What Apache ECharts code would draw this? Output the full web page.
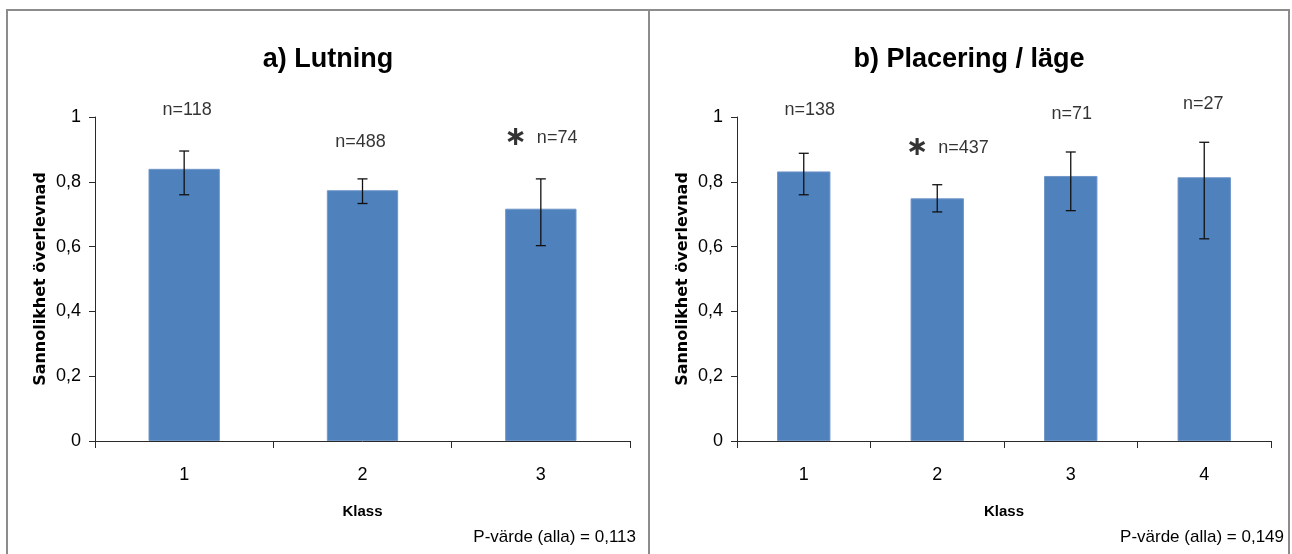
<!DOCTYPE html>
<html>
<head>
<meta charset="utf-8">
<script src="https://cdn.jsdelivr.net/npm/echarts@6/dist/echarts.min.js"></script>
<style>
html,body{margin:0;padding:0;background:#fff;}
#chart{width:1292px;height:554px;}
</style>
</head>
<body>
<div id="chart"></div>
<script>
// ---- data ----
const categoriesA = ['1', '2', '3'];
const meanA = [0.840, 0.774, 0.717];
const lowA = [0.760, 0.733, 0.603];
const highA = [0.895, 0.809, 0.809];
const nLabelsA = ['n=118', 'n=488', 'n=74'];
const starA = [false, false, true];

const categoriesB = ['1', '2', '3', '4'];
const meanB = [0.832, 0.749, 0.818, 0.814];
const lowB = [0.760, 0.707, 0.711, 0.624];
const highB = [0.888, 0.791, 0.892, 0.922];
const nLabelsB = ['n=138', 'n=437', 'n=71', 'n=27'];
const starB = [false, true, false, false];

const titleA = 'a) Lutning';
const titleB = 'b) Placering / läge';
const pValueA = 'P-värde (alla) = 0,113';
const pValueB = 'P-värde (alla) = 0,149';
const yName = 'Sannolikhet överlevnad';
const xName = 'Klass';

// ---- layout (annotation anchors, in axis units / px offsets) ----
const labelAnchorA = [1.020, 0.922, 0.936];
const labelShiftA = [3, -2, 0];
const labelAnchorB = [1.020, 0.903, 1.009, 1.040];
const labelShiftB = [6, 10, 1, -1];

const FONT = '"Liberation Sans", Arial, sans-serif';
const BAR = '#4F81BD';
const AXIS = '#2a2a2a';

function yFmt(v) {
  if (v === 0 || v === 1) return String(v);
  return v.toFixed(1).replace('.', ',');
}

function makeAxes(idx, cats) {
  const x = {
    type: 'category', gridIndex: idx, data: cats,
    axisLine: {lineStyle: {color: AXIS, width: 1}},
    axisTick: {show: true, alignWithLabel: false, length: 7, lineStyle: {color: AXIS}},
    axisLabel: {color: '#000', fontFamily: FONT, fontSize: 18, margin: 25},
    name: xName, nameLocation: 'middle', nameGap: 63,
    nameTextStyle: {color: '#000', fontFamily: FONT, fontSize: 15, fontWeight: 'bold'}
  };
  const y = {
    type: 'value', gridIndex: idx, min: 0, max: 1, interval: 0.2,
    splitLine: {show: false},
    axisLine: {show: true, lineStyle: {color: AXIS, width: 1}},
    axisTick: {show: true, length: 6, lineStyle: {color: AXIS}},
    axisLabel: {color: '#000', fontFamily: FONT, fontSize: 18, margin: 14, formatter: yFmt},
    name: yName, nameLocation: 'middle', nameGap: 46, nameRotate: 90,
    nameTextStyle: {color: '#000', fontFamily: '"DejaVu Sans", Verdana, sans-serif', fontSize: 16, fontWeight: 'bold'}
  };
  return [x, y];
}

function makeSeries(idx, mean, low, high, labels, stars, anchors, shifts) {
  const bar = {
    type: 'bar', xAxisIndex: idx, yAxisIndex: idx, data: mean, barWidth: '40%',
    itemStyle: {color: BAR, borderColor: '#7096c8', borderWidth: 1},
    silent: true, animation: false, z: 2
  };
  const err = {
    type: 'custom', xAxisIndex: idx, yAxisIndex: idx, z: 5,
    data: mean.map((m, i) => [i, low[i], high[i]]),
    encode: {x: 0, y: [1, 2]},
    animation: false, silent: true,
    renderItem: function (params, api) {
      const top = api.coord([api.value(0), api.value(2)]);
      const bot = api.coord([api.value(0), api.value(1)]);
      const hw = 5;
      const st = {stroke: '#111', lineWidth: 1.3};
      return {type: 'group', children: [
        {type: 'line', shape: {x1: top[0], y1: top[1], x2: bot[0], y2: bot[1]}, style: st},
        {type: 'line', shape: {x1: top[0] - hw, y1: top[1], x2: top[0] + hw, y2: top[1]}, style: st},
        {type: 'line', shape: {x1: bot[0] - hw, y1: bot[1], x2: bot[0] + hw, y2: bot[1]}, style: st}
      ]};
    }
  };
  const lab = {
    type: 'scatter', xAxisIndex: idx, yAxisIndex: idx, clip: false, z: 6,
    symbolSize: 1, itemStyle: {color: 'rgba(0,0,0,0)'}, silent: true, animation: false,
    data: labels.map((t, i) => ({
      value: [i, anchors[i]],
      label: {
        show: true, position: 'inside', offset: [shifts[i], 0],
        formatter: stars[i] ? '{s|∗}  ' + t : t,
        color: '#000', fontFamily: FONT, fontSize: 18,
        rich: {s: {fontFamily: '"DejaVu Sans", sans-serif', fontSize: 27, fontWeight: 'bold', color: '#000'}}
      }
    }))
  };
  return [bar, err, lab];
}

const [xA, yA] = makeAxes(0, categoriesA);
const [xB, yB] = makeAxes(1, categoriesB);

const option = {
  backgroundColor: '#fff',
  animation: false,
  grid: [
    {left: 95, width: 535, top: 117, height: 324},
    {left: 737, width: 534, top: 117, height: 324}
  ],
  xAxis: [xA, xB],
  yAxis: [yA, yB],
  series: [
    ...makeSeries(0, meanA, lowA, highA, nLabelsA, starA, labelAnchorA, labelShiftA),
    ...makeSeries(1, meanB, lowB, highB, nLabelsB, starB, labelAnchorB, labelShiftB)
  ],
  graphic: [
    {type: 'rect', shape: {x: 7, y: 10, width: 642, height: 600}, style: {fill: 'none', stroke: '#8c8c8c', lineWidth: 2}, silent: true},
    {type: 'rect', shape: {x: 649, y: 10, width: 640, height: 600}, style: {fill: 'none', stroke: '#8c8c8c', lineWidth: 2}, silent: true},
    {type: 'text', x: 328, y: 60, style: {text: titleA, align: 'center', verticalAlign: 'middle', font: 'bold 27px ' + FONT, fill: '#000'}, silent: true},
    {type: 'text', x: 969, y: 60, style: {text: titleB, align: 'center', verticalAlign: 'middle', font: 'bold 27px ' + FONT, fill: '#000'}, silent: true},
    {type: 'text', x: 636, y: 537, style: {text: pValueA, align: 'right', verticalAlign: 'middle', font: '17px ' + FONT, fill: '#000'}, silent: true},
    {type: 'text', x: 1284, y: 537, style: {text: pValueB, align: 'right', verticalAlign: 'middle', font: '17px ' + FONT, fill: '#000'}, silent: true}
  ]
};

const chart = echarts.init(document.getElementById('chart'), null, {renderer: 'canvas'});
chart.setOption(option);
</script>
</body>
</html>
